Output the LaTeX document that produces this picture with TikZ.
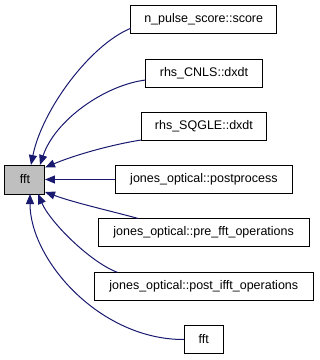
\documentclass[tikz,border=0pt]{standalone}
\usepackage{fontspec}
\setmainfont{Liberation Sans}
\usetikzlibrary{arrows.meta}
\definecolor{edgeblue}{HTML}{191970}
\definecolor{focusgray}{HTML}{BFBFBF}
\tikzset{
  fn/.style={draw=black, line width=1pt, fill=white, inner sep=0pt, outer sep=0pt,
    minimum height=28pt, font=\fontsize{12.5}{14}\selectfont},
  focus/.style={fn, fill=focusgray},
  call/.style={draw=edgeblue, line width=1pt,
    -{Triangle[length=10pt, width=8pt]}, fill=none},
}
\begin{document}
\begin{tikzpicture}[x=1pt, y=-1pt]
  \useasboundingbox (0,0) rectangle (320,360);

  % function being documented
  \node[focus, minimum width=40pt, minimum height=29pt] (fft) at (25,179.5) {fft};

  % callers
  \node[fn, minimum width=146pt]   (npulse) at (203.7,19.7)  {n\_pulse\_score::score};
  \node[fn, minimum width=116.6pt] (cnls)   at (204,73)      {rhs\_CNLS::dxdt};
  \node[fn, minimum width=125.7pt] (sqgle)  at (203.9,126)   {rhs\_SQGLE::dxdt};
  \node[fn, minimum width=177.7pt] (post)   at (203.9,179.5) {jones\_optical::postprocess};
  \node[fn, minimum width=211pt]   (pre)    at (203.7,232.5) {jones\_optical::pre\_fft\_operations};
  \node[fn, minimum width=219pt]   (pifft)  at (203.8,286.3) {jones\_optical::post\_ifft\_operations};
  \node[fn, minimum width=39pt]    (fftb)   at (203.7,339.5) {fft};

  % call edges, all ending at fft
  \draw[call] ([yshift=-8.6pt]npulse.west) .. controls (90,45) and (42,110) .. ([xshift=6pt]fft.north);
  \draw[call] ([yshift=-7pt]cnls.west) .. controls (105,85) and (55,120) .. ([xshift=15pt]fft.north);
  \draw[call] (sqgle.south west) .. controls (110,145) and (75,155) .. ([yshift=-2.5pt]fft.north east);
  \draw[call] (post.west) -- (fft.east);
  \draw[call] ([xshift=40pt]pre.north west) .. controls (115,212) and (75,203) .. ([yshift=-12.5pt]fft.east);
  \draw[call] ([xshift=23pt]pifft.north west) .. controls (90,262) and (50,222) .. ([xshift=13pt]fft.south);
  \draw[call] (fftb.west) .. controls (100,340) and (30,260) .. ([xshift=5pt]fft.south);
\end{tikzpicture}
\end{document}
